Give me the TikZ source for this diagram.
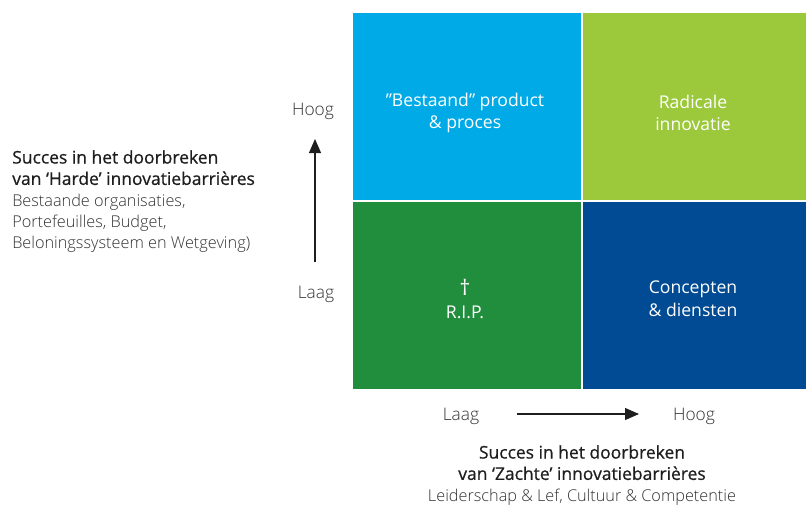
\documentclass[tikz,border=0pt]{standalone}
\usepackage{fontspec}
\setmainfont{Open Sans}
\newfontfamily\lightfont{Open Sans Light}
\newfontfamily\headfont[FakeBold=0.7]{Open Sans}
\usetikzlibrary{arrows.meta}
\definecolor{qblue}{RGB}{0,170,230}
\definecolor{qlime}{RGB}{155,201,59}
\definecolor{qgreen}{RGB}{33,142,62}
\definecolor{qnavy}{RGB}{0,75,147}
\definecolor{txtgray}{RGB}{50,50,50}
\definecolor{txtdark}{RGB}{30,30,30}
\newcommand{\headline}[1]{{\headfont\fontsize{13.1}{16}\selectfont\color{txtdark}#1}}
\begin{document}
\begin{tikzpicture}[x=0.75pt,y=-0.75pt,
  quad/.style={draw=none,inner sep=0pt,anchor=north west,minimum width=171pt,minimum height=140.25pt},
  qtext/.style={text=white,align=center,font=\fontsize{13.2}{17}\selectfont},
  axislabel/.style={text=txtgray,font=\lightfont\fontsize{13}{16}\selectfont},
  axisarrow/.style={draw=txtdark,line width=0.8pt,-{Triangle[length=10.5pt,width=9pt]}},
  caption/.style={text=txtgray,font=\lightfont\fontsize{12.2}{16}\selectfont,inner sep=0pt}]
\useasboundingbox (0,0) rectangle (806,504);
% quadrants
\node[quad,fill=qblue]  (tl) at (353,13)  {};
\node[quad,fill=qlime]  (tr) at (583,13)  {};
\node[quad,fill=qgreen] (bl) at (353,202) {};
\node[quad,fill=qnavy]  (br) at (583,202) {};
% quadrant labels
\node[qtext] (tltext) at (465,113) {\char"201D Bestaand\char"201D{} product\\\& proces};
\node[qtext] (trtext) at (693,113) {Radicale\\innovatie};
\node[qtext] (bltext) at (465,299) {{\fontsize{16}{17}\selectfont\char"2020}\\R.I.P.};
\node[qtext] (brtext) at (693,299) {Concepten\\\& diensten};
% vertical axis
\node[axislabel] (vhigh) at (313,111) {Hoog};
\node[axislabel] (vlow)  at (316,294) {Laag};
\coordinate (vstart) at (315,262);
\coordinate (vend)   at (315,139);
\draw[axisarrow] (vstart) -- (vend);
% horizontal axis
\node[axislabel] (hlow)  at (461,416) {Laag};
\node[axislabel] (hhigh) at (694,416) {Hoog};
\coordinate (hstart) at (517,414);
\coordinate (hend)   at (639,414);
\draw[axisarrow] (hstart) -- (hend);
% axis captions
\node[caption,anchor=north west,align=left] (vcap) at (12,150)
  {\headline{Succes in het doorbreken}\\\headline{van \char"2018 Harde\char"2019{} innovatiebarri\`eres}\\Bestaande organisaties,\\Portefeuilles, Budget,\\Beloningssysteem en Wetgeving)};
\node[caption,anchor=north,align=center] (hcap) at (582,445)
  {\headline{Succes in het doorbreken}\\\headline{van \char"2018 Zachte\char"2019{} innovatiebarri\`eres}\\Leiderschap \& Lef, Cultuur \& Competentie};
\end{tikzpicture}
\end{document}
